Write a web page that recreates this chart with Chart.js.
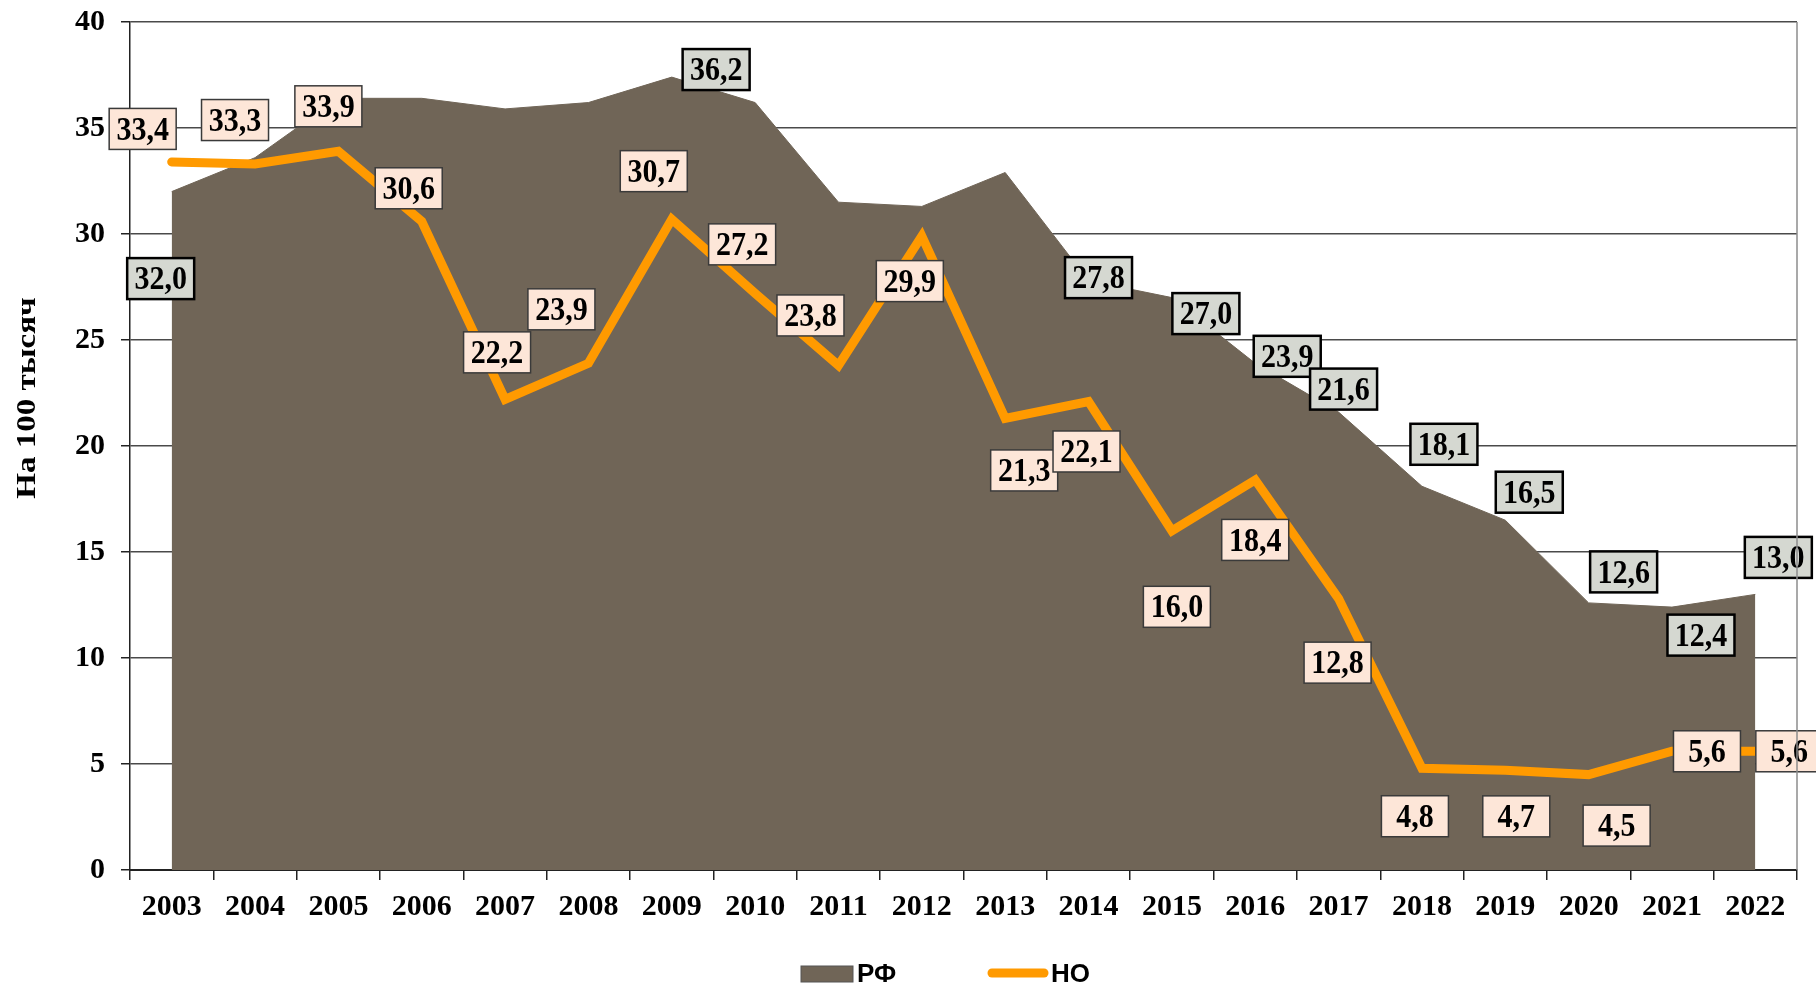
<!DOCTYPE html>
<html>
<head>
<meta charset="utf-8">
<script src="https://cdn.jsdelivr.net/npm/chart.js@4.4.1/dist/chart.umd.min.js"></script>
<style>
  html, body { margin: 0; padding: 0; background: #fff; }
  #wrap { width: 1816px; height: 984px; }
</style>
</head>
<body>
<div id="wrap"><canvas id="chart" width="1816" height="984"></canvas></div>
<script>
// Data
const years = ['2003', '2004', '2005', '2006', '2007', '2008', '2009', '2010', '2011', '2012',
               '2013', '2014', '2015', '2016', '2017', '2018', '2019', '2020', '2021', '2022'];
const rfValues = [32.0, 33.6, 36.4, 36.4, 35.9, 36.2, 37.4, 36.2, 31.5, 31.3,
                  32.9, 27.8, 27.0, 23.9, 21.6, 18.1, 16.5, 12.6, 12.4, 13.0];
const noValues = [33.4, 33.3, 33.9, 30.6, 22.2, 23.9, 30.7, 27.2, 23.8, 29.9,
                  21.3, 22.1, 16.0, 18.4, 12.8, 4.8, 4.7, 4.5, 5.6, 5.6];
const yMin = 0, yMax = 40, yStep = 5;
const yTitle = 'На 100 тысяч';

// Label placement (pixel offsets from the point, null = label hidden)
const noLabelOffsets = [[-29, -33], [-20, -44], [-10, -45], [-13, -33], [-8, -47], [-27, -54], [-18, -48],
                        [-13, -49], [-28, -50], [-12, 45], [19, 52], [-2, 50], [5, 76], [0, 60],
                        [-1, 64], [-7, 48], [11, 46], [28, 51], [35, 0], [34, 0]];
const rfLabelOffsets = [[-11, 87], null, null, null, null, null, null, [-39, -33], null, null,
                        null, [10, -3], [34, 16], [32, -7], [5, -23], [22, -42], [24, -28],
                        [35, -31], [29, 28], [23, -37]];

const AREA_COLOR = '#706557';
const LINE_COLOR = '#ff9a00';
const SERIF = '"Liberation Serif", "Times New Roman", serif';
const SANS = '"Liberation Sans", Arial, sans-serif';

function fmt(v) {
    return v.toFixed(1).replace('.', ',');
}

// Boxed value labels
const boxLabels = {
    id: 'boxLabels',
    afterDatasetsDraw(chart) {
        const ctx = chart.ctx;
        ctx.save();
        ctx.font = 'bold 30px ' + SERIF;
        ctx.textAlign = 'center';
        ctx.textBaseline = 'middle';
        chart.data.datasets.forEach((ds, di) => {
            const meta = chart.getDatasetMeta(di);
            meta.data.forEach((pt, i) => {
                const off = ds.labelOffsets[i];
                if (!off) return;
                const cx = pt.x + off[0];
                const cy = pt.y + off[1];
                const w = 67, h = 41;
                ctx.fillStyle = ds.labelBg;
                ctx.fillRect(cx - w / 2, cy - h / 2, w, h);
                ctx.lineWidth = ds.labelBorderWidth;
                ctx.strokeStyle = ds.labelBorder;
                ctx.strokeRect(cx - w / 2, cy - h / 2, w, h);
                ctx.fillStyle = '#000';
                ctx.save();
                ctx.translate(cx, cy + 2);
                ctx.scale(1, 1.12);
                ctx.fillText(fmt(ds.data[i]), 0, 0);
                ctx.restore();
            });
        });
        ctx.restore();
    }
};

// Axis title, right border line and bottom legend
const frameAndLegend = {
    id: 'frameAndLegend',
    afterDraw(chart) {
        const ctx = chart.ctx;
        const area = chart.chartArea;
        ctx.save();
        ctx.strokeStyle = '#8c8c8c';
        ctx.lineWidth = 1.5;
        ctx.beginPath();
        ctx.moveTo(area.right, area.top);
        ctx.lineTo(area.right, area.bottom);
        ctx.stroke();

        // rotated y title
        ctx.save();
        ctx.translate(28, 398);
        ctx.rotate(-Math.PI / 2);
        ctx.scale(1.18, 1);
        ctx.font = 'bold 28px ' + SERIF;
        ctx.fillStyle = '#000';
        ctx.textAlign = 'center';
        ctx.textBaseline = 'middle';
        ctx.fillText(yTitle, 0, 0);
        ctx.restore();

        const ly = 974;
        ctx.fillStyle = AREA_COLOR;
        ctx.fillRect(801, 966, 52, 16);
        ctx.strokeStyle = '#555';
        ctx.lineWidth = 1;
        ctx.strokeRect(801, 966, 52, 16);

        ctx.strokeStyle = LINE_COLOR;
        ctx.lineWidth = 9;
        ctx.lineCap = 'round';
        ctx.beginPath();
        ctx.moveTo(992, ly - 1);
        ctx.lineTo(1044, ly - 1);
        ctx.stroke();

        ctx.fillStyle = '#000';
        ctx.font = 'bold 26px ' + SANS;
        ctx.textAlign = 'left';
        ctx.textBaseline = 'middle';
        ctx.fillText(chart.data.datasets[1].label, 857, ly + 1);
        ctx.fillText(chart.data.datasets[0].label, 1051, ly + 1);
        ctx.restore();
    }
};

const ctx = document.getElementById('chart').getContext('2d');
new Chart(ctx, {
    type: 'line',
    data: {
        labels: years,
        datasets: [
            {
                label: 'НО',
                data: noValues,
                borderColor: LINE_COLOR,
                backgroundColor: LINE_COLOR,
                borderWidth: 9,
                borderCapStyle: 'round',
                borderJoinStyle: 'miter',
                pointRadius: 0,
                fill: false,
                tension: 0,
                order: 1,
                labelOffsets: noLabelOffsets,
                labelBg: '#fde6d8',
                labelBorder: '#3a3a3a',
                labelBorderWidth: 1.5
            },
            {
                label: 'РФ',
                data: rfValues,
                borderColor: AREA_COLOR,
                backgroundColor: AREA_COLOR,
                borderWidth: 1,
                pointRadius: 0,
                fill: 'origin',
                tension: 0,
                order: 2,
                labelOffsets: rfLabelOffsets,
                labelBg: '#d5d8d1',
                labelBorder: '#000',
                labelBorderWidth: 2.5
            }
        ]
    },
    options: {
        responsive: false,
        animation: false,
        layout: { padding: { top: 22, right: 19, left: 0, bottom: 0 } },
        plugins: {
            legend: { display: false },
            tooltip: { enabled: false }
        },
        scales: {
            x: {
                offset: true,
                grid: {
                    offset: true,
                    drawOnChartArea: false,
                    drawTicks: true,
                    tickLength: 10,
                    tickColor: '#222',
                    lineWidth: 1.5
                },
                border: { display: true, color: '#222', width: 2 },
                ticks: {
                    color: '#000',
                    padding: 9,
                    maxRotation: 0,
                    autoSkip: false,
                    font: { family: SERIF, size: 30, weight: 'bold' }
                },
                afterFit(scale) {
                    scale.height = 114;
                    scale.paddingLeft = 0;
                    scale.paddingRight = 0;
                }
            },
            y: {
                min: yMin,
                max: yMax,
                ticks: {
                    stepSize: yStep,
                    color: '#000',
                    padding: 16,
                    font: { family: SERIF, size: 30, weight: 'bold' }
                },
                grid: {
                    color: '#4a4a4a',
                    lineWidth: 1.5,
                    drawTicks: true,
                    tickLength: 9,
                    tickColor: '#222'
                },
                border: { display: true, color: '#222', width: 1.5 },
                afterFit(scale) {
                    scale.width = 130;
                    scale.paddingTop = 0;
                    scale.paddingBottom = 0;
                }
            }
        }
    },
    plugins: [boxLabels, frameAndLegend]
});
</script>
</body>
</html>
